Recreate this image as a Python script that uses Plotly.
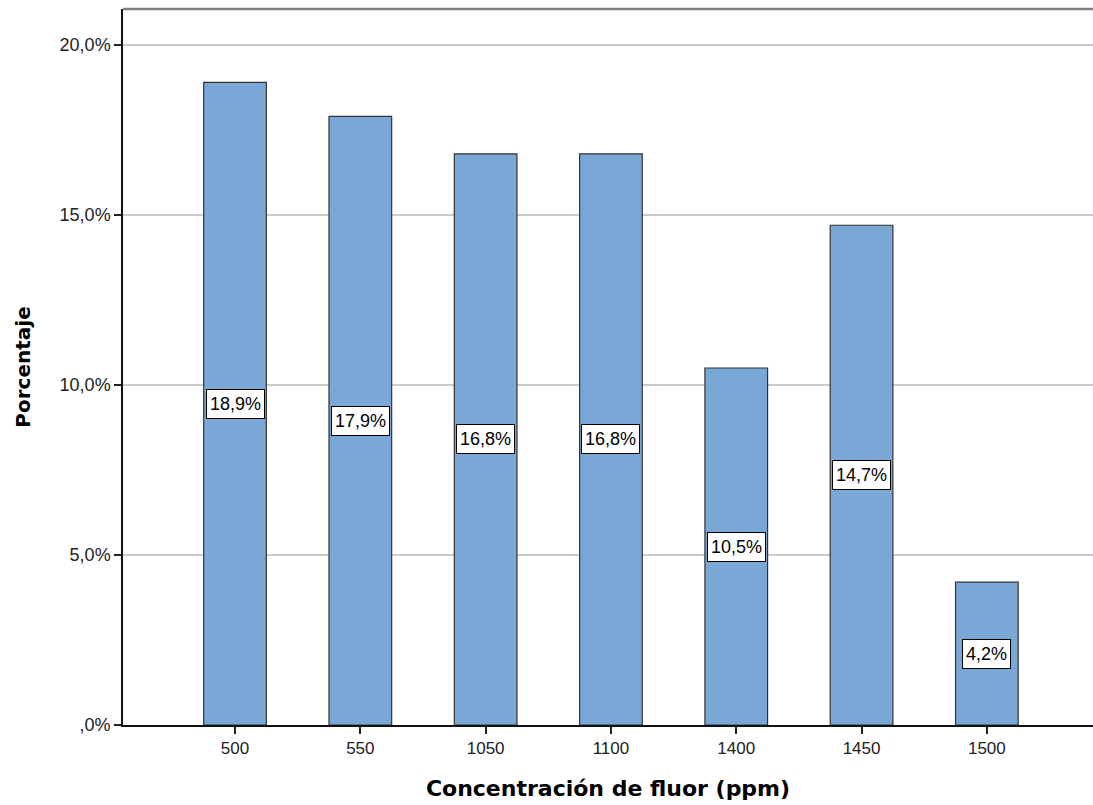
import plotly.graph_objects as go

categories = ["500", "550", "1050", "1100", "1400", "1450", "1500"]
values = [18.9, 17.9, 16.8, 16.8, 10.5, 14.7, 4.2]
labels = ["18,9%", "17,9%", "16,8%", "16,8%", "10,5%", "14,7%", "4,2%"]
ytick_vals = [0, 5, 10, 15, 20]
ytick_text = [",0%", "5,0%", "10,0%", "15,0%", "20,0%"]

font_family = "Liberation Sans, Arial, sans-serif"
title_family = "DejaVu Sans, Verdana, sans-serif"

fig = go.Figure()
fig.add_trace(go.Bar(
    x=list(range(len(categories))),
    y=values,
    width=0.5,
    marker=dict(color="#79A8D6", line=dict(color="#333333", width=1.2)),
    hoverinfo="skip",
))

for i, (v, lab) in enumerate(zip(values, labels)):
    fig.add_annotation(
        x=i, y=v / 2, text=lab, showarrow=False,
        font=dict(family=font_family, size=18, color="#000000"),
        bgcolor="#FFFFFF", bordercolor="#000000", borderwidth=1, borderpad=3,
        height=22,
        xref="x", yref="y",
    )

fig.add_shape(type="line", xref="paper", yref="paper", x0=0, x1=1, y0=1, y1=1,
              line=dict(color="#808080", width=2.5))

fig.update_layout(
    width=1093, height=805,
    margin=dict(l=123, r=0, t=9, b=80),
    plot_bgcolor="#FFFFFF", paper_bgcolor="#FFFFFF",
    showlegend=False,
    font=dict(family=font_family, size=18, color="#222222"),
    xaxis=dict(
        range=[-0.894, 6.847],
        tickmode="array", tickvals=list(range(len(categories))), ticktext=categories,
        ticks="outside", ticklen=7, tickwidth=1.5, tickcolor="#222222",
        showline=True, linecolor="#111111", linewidth=1.5,
        showgrid=False, zeroline=False,
        tickfont=dict(family=font_family, size=17, color="#222222"),
        title=dict(text="<b>Concentración de fluor (ppm)</b>",
                   font=dict(family=title_family, size=22, color="#000000"), standoff=23),
    ),
    yaxis=dict(
        range=[0, 21.06],
        tickmode="array", tickvals=ytick_vals, ticktext=ytick_text,
        ticks="outside", ticklen=7, tickwidth=1.5, tickcolor="#222222",
        showline=True, linecolor="#111111", linewidth=1.5,
        showgrid=True, gridcolor="#CCCCCC", gridwidth=2,
        zeroline=False,
        tickfont=dict(family=font_family, size=18, color="#222222"),
        title=dict(text="<b>Porcentaje</b>",
                   font=dict(family=title_family, size=20, color="#000000"), standoff=24),
    ),
)

fig.write_html(
    "out.html",
    config={"displayModeBar": False},
    post_script="document.body.style.margin='0';document.body.style.overflow='hidden';",
)
